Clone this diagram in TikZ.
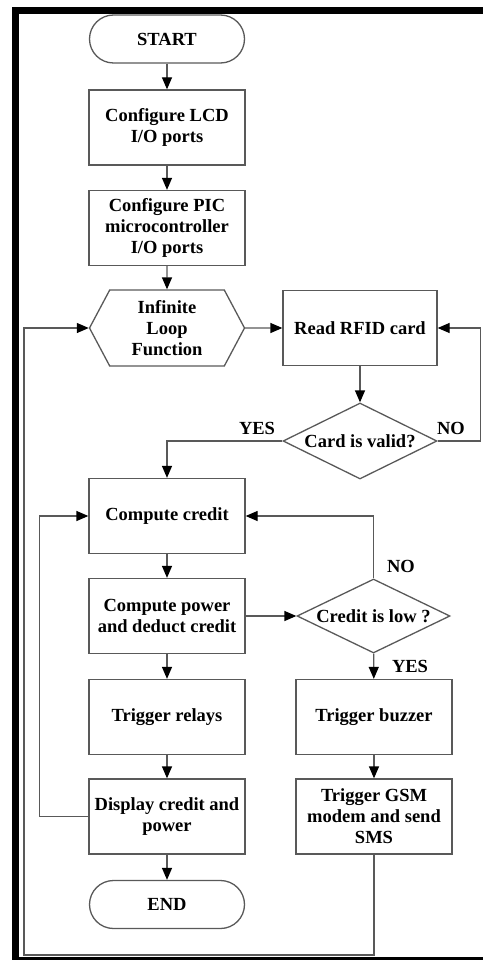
\documentclass[tikz,border=0pt]{standalone}
\usepackage{fontspec}
\setmainfont{Liberation Serif}
\usetikzlibrary{arrows.meta, shapes.geometric, shapes.symbols}

\begin{document}
\begin{tikzpicture}[x=1pt, y=-1pt,
            font=\fontsize{18.5}{21}\selectfont\bfseries,
            line width=1.3pt,
            blk/.style={draw=black!65, align=center, inner sep=1pt,
                        minimum width=156pt, minimum height=75pt},
            term/.style={draw=black!65, rounded corners=24pt,
                        minimum width=155pt, minimum height=48pt},
            dec/.style={draw=black!65, diamond, aspect=2, inner sep=0pt,
                        minimum width=154pt, minimum height=76pt},
            loopf/.style={draw=black!65, shape=signal, signal to=west and east,
                        signal pointer angle=124, align=center, inner sep=1pt,
                        minimum width=155pt, minimum height=76pt},
            arr/.style={draw=black!65, -{Triangle[length=12pt, width=10pt, color=black]}},
            lbl/.style={inner sep=0pt}]
            \useasboundingbox (0,0) rectangle (483,960);
            % frame
            \fill (12,7) rectangle (483,14);
            \fill (12,7) rectangle (19,960);
            \fill (12,957) rectangle (483,960);
            % main column
            \node[term] (start) at (167,39) {START};
            \node[blk] (lcd) at (167,127.5) {Configure LCD\\I/O ports};
            \node[blk] (pic) at (167,228) {Configure PIC\\microcontroller\\I/O ports};
            \node[loopf] (inf) at (167,328) {Infinite\\Loop\\Function};
            \node[blk, minimum width=154pt] (rfid) at (360,328) {Read RFID card};
            \node[dec] (valid) at (360,441) {Card is valid?};
            \node[blk] (credit) at (167,516) {Compute credit};
            \node[blk] (power) at (167,616) {Compute power\\and deduct credit};
            \node[dec, minimum width=153pt, minimum height=74pt] (low) at (373.5,616) {Credit is low ?};
            \node[blk] (relay) at (167,717) {Trigger relays};
            \node[blk] (disp) at (167,816.5) {Display credit and\\power};
            \node[term] (end) at (167,904.5) {END};
            \node[blk] (buzz) at (374,717) {Trigger buzzer};
            \node[blk] (gsm) at (374,816.5) {Trigger GSM\\modem and send\\SMS};
            \coordinate (loopbot) at (24,955);
            % labels
            \node[lbl] (yes1) at (257,428) {YES};
            \node[lbl] (no1) at (451,428) {NO};
            \node[lbl] (no2) at (401,566) {NO};
            \node[lbl] (yes2) at (410,666) {YES};
            % connectors
            \draw[arr] (start) -- (lcd);
            \draw[arr] (lcd) -- (pic);
            \draw[arr] (pic) -- (inf);
            \draw[arr] (inf) -- (rfid);
            \draw[arr] (rfid) -- (valid);
            \draw[arr] (valid.west) -| (credit.north);
            \draw[arr] (valid.east) -- ++(43,0) |- (rfid.east);
            \draw[arr] (credit) -- (power);
            \draw[arr] (power) -- (low);
            \draw[arr] (low.north) |- (credit.east);
            \draw[arr] (low) -- (buzz);
            \draw[arr] (buzz) -- (gsm);
            \draw[arr] (power) -- (relay);
            \draw[arr] (relay) -- (disp);
            \draw[arr] (disp) -- (end);
            \draw[arr] (disp.west) -- ++(-49,0) |- (credit.west);
            \draw[arr] (gsm.south) |- (loopbot) |- (inf.west);
          \end{tikzpicture}
\end{document}
